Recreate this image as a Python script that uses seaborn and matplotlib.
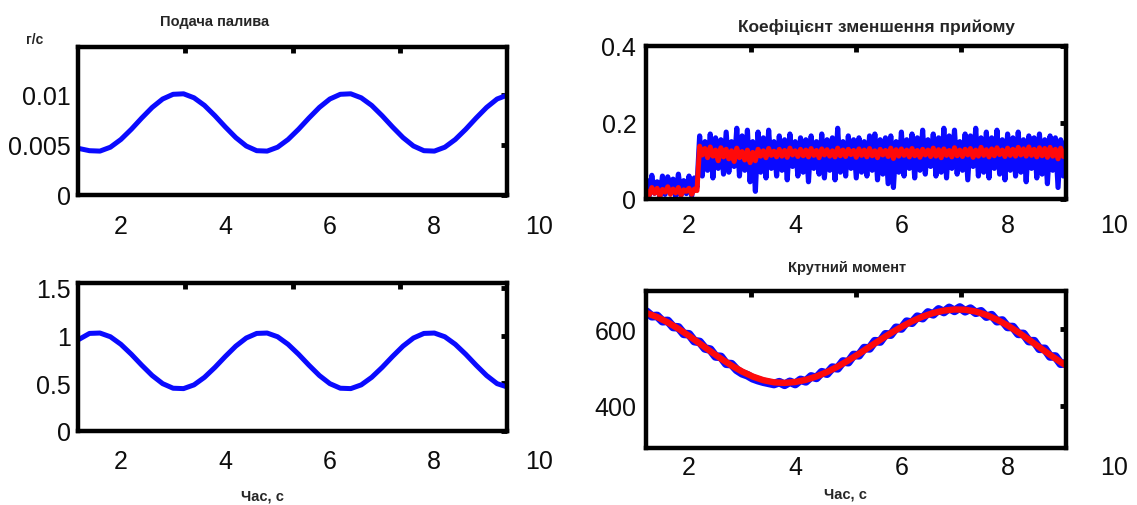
import numpy as np
import matplotlib
matplotlib.use("Agg")
import matplotlib.pyplot as plt
import matplotlib.transforms as mtransforms
import seaborn as sns

# ---- fuel supply, g/s (sampled every 0.2 s from t = 1.2 s) ----
fuel_supply = [
    0.00465, 0.00443, 0.00439, 0.00478, 0.00555, 0.00657, 0.00770, 0.00876,
    0.00960, 0.01007, 0.01012, 0.00972, 0.00896, 0.00793, 0.00680, 0.00574,
    0.00490, 0.00443, 0.00439, 0.00478, 0.00555, 0.00657, 0.00770, 0.00876,
    0.00960, 0.01007, 0.01012, 0.00972, 0.00896, 0.00793, 0.00680, 0.00574,
    0.00490, 0.00443, 0.00439, 0.00478, 0.00555, 0.00657, 0.00770, 0.00876,
    0.00960, 0.01000,
]

# ---- second fuel-side signal (sampled every 0.2 s from t = 1.2 s) ----
lower_signal = [
    0.960, 1.022, 1.026, 0.987, 0.908, 0.804, 0.689, 0.581,
    0.496, 0.448, 0.444, 0.483, 0.562, 0.666, 0.781, 0.889,
    0.974, 1.022, 1.026, 0.987, 0.908, 0.804, 0.689, 0.581,
    0.496, 0.448, 0.444, 0.483, 0.562, 0.666, 0.781, 0.889,
    0.974, 1.022, 1.026, 0.987, 0.908, 0.804, 0.689, 0.581,
    0.496, 0.460,
]

# ---- speed reduction coefficient (sampled every 0.05 s from t = 1.2 s) ----
coef_raw = [
    # before the step
    0.050, 0.008, 0.062, 0.015, 0.045, 0.005, 0.060, 0.012, 0.058, 0.020,
    0.052, 0.006, 0.065, 0.010, 0.048, 0.014, 0.060, 0.008, 0.055, 0.030,
    # after the step (t = 2.2 s onwards)
    0.165, 0.060, 0.150, 0.075, 0.170, 0.055, 0.160, 0.080, 0.155, 0.065,
    0.175, 0.070, 0.150, 0.085, 0.185, 0.060, 0.165, 0.075, 0.180, 0.045,
    0.150, 0.020, 0.175, 0.070, 0.160, 0.055, 0.180, 0.080, 0.150, 0.060,
    0.165, 0.075, 0.155, 0.050, 0.170, 0.085, 0.150, 0.060, 0.160, 0.070,
    0.155, 0.045, 0.165, 0.080, 0.150, 0.065, 0.170, 0.055, 0.155, 0.075,
    0.160, 0.050, 0.185, 0.070, 0.150, 0.060, 0.165, 0.080, 0.155, 0.055,
    0.160, 0.070, 0.150, 0.060, 0.165, 0.075, 0.170, 0.050, 0.155, 0.065,
    0.160, 0.040, 0.165, 0.030, 0.150, 0.070, 0.175, 0.060, 0.155, 0.080,
    0.170, 0.055, 0.160, 0.075, 0.180, 0.065, 0.155, 0.085, 0.170, 0.060,
    0.160, 0.070, 0.185, 0.055, 0.165, 0.080, 0.180, 0.065, 0.150, 0.075,
    0.170, 0.050, 0.165, 0.085, 0.185, 0.060, 0.160, 0.070, 0.175, 0.055,
    0.160, 0.080, 0.180, 0.065, 0.155, 0.050, 0.170, 0.075, 0.160, 0.060,
    0.175, 0.070, 0.155, 0.045, 0.165, 0.080, 0.160, 0.055, 0.170, 0.065,
    0.155, 0.040, 0.165, 0.075, 0.160, 0.030, 0.155, 0.060, 0.150,
]
coef_filtered = [
    0.022, 0.010, 0.030, 0.015, 0.028, 0.008, 0.025, 0.018, 0.032, 0.012,
    0.026, 0.016, 0.030, 0.010, 0.024, 0.020, 0.028, 0.012, 0.026, 0.022,
    0.138, 0.115, 0.132, 0.108, 0.136, 0.112, 0.128, 0.100, 0.134, 0.110,
    0.130, 0.105, 0.126, 0.098, 0.133, 0.108, 0.124, 0.102, 0.128, 0.095,
    0.122, 0.100, 0.130, 0.112, 0.126, 0.108, 0.132, 0.114, 0.125, 0.110,
    0.130, 0.112, 0.127, 0.109, 0.133, 0.115, 0.126, 0.111, 0.130, 0.113,
    0.128, 0.110, 0.132, 0.114, 0.127, 0.108, 0.131, 0.115, 0.129, 0.112,
    0.126, 0.110, 0.133, 0.113, 0.128, 0.111, 0.130, 0.116, 0.127, 0.109,
    0.131, 0.114, 0.128, 0.110, 0.132, 0.113, 0.126, 0.108, 0.130, 0.115,
    0.127, 0.111, 0.133, 0.106, 0.129, 0.112, 0.131, 0.114, 0.128, 0.110,
    0.132, 0.113, 0.127, 0.109, 0.130, 0.115, 0.128, 0.111, 0.133, 0.112,
    0.129, 0.108, 0.131, 0.114, 0.127, 0.110, 0.134, 0.113, 0.128, 0.111,
    0.130, 0.115, 0.132, 0.109, 0.128, 0.112, 0.135, 0.114, 0.129, 0.110,
    0.131, 0.113, 0.134, 0.116, 0.128, 0.111, 0.133, 0.114, 0.130, 0.112,
    0.135, 0.115, 0.131, 0.112, 0.136, 0.114, 0.130, 0.110, 0.134, 0.113,
    0.132, 0.109, 0.135, 0.112, 0.130, 0.105, 0.133, 0.111, 0.128,
]

# ---- torque: measured (every 0.1 s) and filtered (every 0.2 s), from t = 1.2 s ----
torque_raw = [
    646, 634, 635, 621, 622, 606, 605, 588, 587, 569,
    567, 550, 547, 529, 528, 510, 509, 494, 485, 480,
    472, 467, 463, 460, 457, 462, 455, 463, 457, 468,
    464, 477, 473, 488, 484, 500, 498, 516, 514, 533,
    532, 551, 550, 569, 568, 587, 586, 604, 602, 620,
    617, 633, 629, 644, 639, 652, 645, 656, 648, 657,
    647, 654, 643, 647, 633, 637, 621, 623, 606, 606,
    588, 588, 569, 569, 549, 549, 529, 529, 510, 511,
    493,
]
torque_filtered = [
    642.4, 631.9, 618.0, 601.4, 582.8, 563.0, 542.9, 523.5, 505.4, 489.6,
    476.6, 467.1, 461.5, 460.0, 462.3, 468.0, 476.8, 488.5, 502.6, 518.7,
    536.0, 554.2, 572.3, 590.0, 606.3, 620.9, 633.2, 642.6, 648.8, 651.8,
    651.1, 646.3, 637.6, 625.3, 610.0, 592.3, 573.0, 553.0, 533.1, 514.2,
    497.0,
]

x_labels = [2, 4, 6, 8, 10]
t0 = 1.2

BLUE = "#0a0aff"
RED = "#ff0a0a"
TICK_FONT = 18

sns.set_style("white")
plt.rcParams["font.family"] = ["Liberation Sans", "DejaVu Sans"]

fig = plt.figure(figsize=(11.37, 5.06), dpi=100)
W, H = 1137.0, 506.0


def add_axes(x0, x1, y0, y1):
    return fig.add_axes([x0 / W, 1 - y1 / H, (x1 - x0) / W, (y1 - y0) / H])


def style(ax, xlim, ylim, yticks, ylabels, label_y, ypad):
    ax.set_xlim(*xlim)
    ax.set_ylim(*ylim)
    span = xlim[1] - xlim[0]
    ax.set_xticks([xlim[0] + span * k / 4 for k in (1, 2, 3)])
    ax.set_xticklabels([])
    ax.set_yticks(yticks)
    ax.set_yticklabels(ylabels)
    ax.tick_params(axis="both", direction="in", length=4, width=3.5,
                   color="black", top=True, right=True, labelsize=TICK_FONT,
                   labelcolor="#0d0d0d")
    ax.tick_params(axis="y", pad=ypad)
    for sp in ax.spines.values():
        sp.set_visible(True)
        sp.set_linewidth(3.2)
        sp.set_color("black")
    ax.set_xlabel("")
    ax.set_ylabel("")
    tr = mtransforms.blended_transform_factory(ax.transData, ax.transAxes)
    for v in x_labels:
        ax.text(v, label_y, str(v), transform=tr, ha="center", va="center",
                fontsize=TICK_FONT, color="#0d0d0d", clip_on=False)


# --- top left: fuel supply ---
ax1 = add_axes(78, 507, 48, 196)
t_fuel = t0 + 0.2 * np.arange(len(fuel_supply))
sns.lineplot(x=t_fuel, y=fuel_supply, ax=ax1, color=BLUE, linewidth=3.6)
style(ax1, (1.18, 9.39), (0, 0.0148), [0, 0.005, 0.01], ["0", "0.005", "0.01"],
      -0.21, 5)

# --- bottom left ---
ax3 = add_axes(78, 507, 284, 432)
t_low = t0 + 0.2 * np.arange(len(lower_signal))
sns.lineplot(x=t_low, y=lower_signal, ax=ax3, color=BLUE, linewidth=3.6)
style(ax3, (1.18, 9.39), (0, 1.55), [0, 0.5, 1, 1.5], ["0", "0.5", "1", "1.5"],
      -0.2, 5)

# --- top right: speed reduction coefficient ---
ax2 = add_axes(646, 1066, 47, 200)
t_coef = t0 + 0.05 * np.arange(len(coef_raw))
t_coef_f = t0 + 0.05 * np.arange(len(coef_filtered))
sns.lineplot(x=t_coef, y=coef_raw, ax=ax2, color=BLUE, linewidth=3.7)
sns.lineplot(x=t_coef_f, y=coef_filtered, ax=ax2, color=RED, linewidth=3.6)
style(ax2, (1.19, 9.1), (0, 0.4), [0, 0.2, 0.4], ["0", "0.2", "0.4"], -0.17, 7)

# --- bottom right: torque ---
ax4 = add_axes(646, 1066, 292, 449)
t_tq = t0 + 0.1 * np.arange(len(torque_raw))
t_tq_f = t0 + 0.2 * np.arange(len(torque_filtered))
sns.lineplot(x=t_tq, y=torque_raw, ax=ax4, color=BLUE, linewidth=6.2)
sns.lineplot(x=t_tq_f, y=torque_filtered, ax=ax4, color=RED, linewidth=4.6)
style(ax4, (1.19, 9.1), (290, 700), [400, 600], ["400", "600"], -0.12, 7)

# --- titles and axis captions ---
fig.text(215 / W, 1 - 22 / H, "Подача палива", ha="center", va="center",
         fontsize=10.5, fontweight="bold")
fig.text(35 / W, 1 - 40 / H, "г/с", ha="center", va="center",
         fontsize=10, fontweight="bold")
fig.text(876 / W, 1 - 27 / H, "Коефіцієнт зменшення прийому", ha="center",
         va="center", fontsize=12.5, fontweight="bold")
fig.text(847 / W, 1 - 268 / H, "Крутний момент", ha="center", va="center",
         fontsize=10.5, fontweight="bold")
fig.text(262 / W, 1 - 497 / H, "Час, с", ha="center", va="center",
         fontsize=10.5, fontweight="bold")
fig.text(845 / W, 1 - 495 / H, "Час, с", ha="center", va="center",
         fontsize=10.5, fontweight="bold")

fig.savefig("out.png", dpi=100, facecolor="white")
